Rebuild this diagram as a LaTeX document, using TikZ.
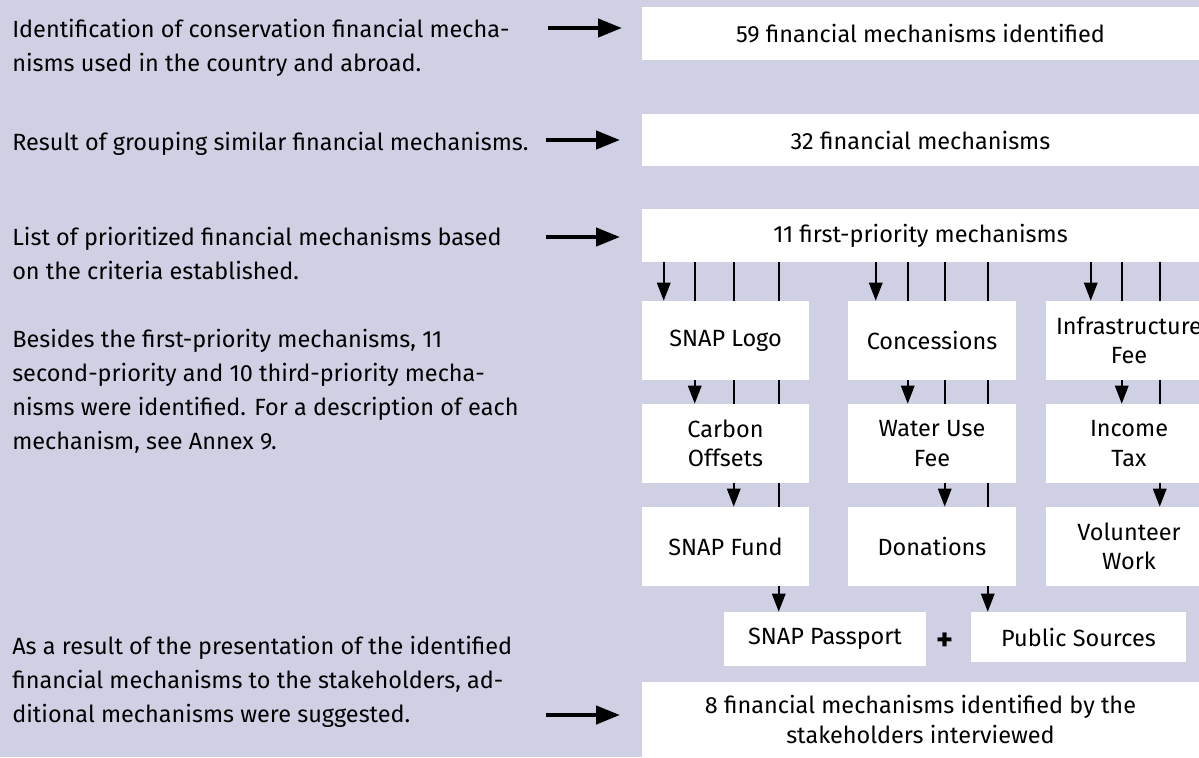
\documentclass[tikz,border=0pt]{standalone}
\usepackage{fontspec}
\setmainfont{Fira Sans}
\usetikzlibrary{arrows.meta,calc,backgrounds}
\definecolor{bgpanel}{RGB}{208,208,229}
\begin{document}
\begin{tikzpicture}[x=0.75pt,y=-0.75pt,
  stagebox/.style={fill=white, inner sep=0pt, align=center,
    font=\fontsize{17.6}{22}\selectfont},
  note/.style={anchor=north west, inner sep=0pt, align=left,
    font=\fontsize{17.6}{25.5}\selectfont},
  bigarrow/.style={line width=3.2pt, -{Triangle[length=18pt,width=13.5pt]}},
  feed/.style={line width=1.6pt, -{Triangle[length=13.5pt,width=10pt]}},
  row/.style={minimum height=59.25pt},
]
\useasboundingbox (0,0) rectangle (1199,757);

% stage boxes on the right
\node[stagebox, minimum width=417.75pt, minimum height=39.75pt] (b59) at (920.5,33.5) {59 financial mechanisms identified};
\node[stagebox, minimum width=417.75pt, minimum height=39pt] (b32) at (920.5,140) {32 financial mechanisms};
\node[stagebox, minimum width=417.75pt, minimum height=39.75pt] (prio) at (920.5,235.5) {11 first-priority mechanisms};

% first-priority mechanisms, three columns
\node[stagebox, row, minimum width=125.25pt] (logo) at (725.5,340.5) {SNAP Logo};
\node[stagebox, row, minimum width=126pt] (conc) at (932,340.5) {Concessions};
\node[stagebox, row, minimum width=124.5pt] (infra) at (1129,340.5) {Infrastructure\\Fee};
\node[stagebox, row, minimum width=125.25pt] (carbon) at (725.5,443.5) {Carbon\\Offsets};
\node[stagebox, row, minimum width=126pt] (water) at (932,443.5) {Water Use\\Fee};
\node[stagebox, row, minimum width=124.5pt] (income) at (1129,443.5) {Income\\Tax};
\node[stagebox, row, minimum width=125.25pt] (fund) at (725.5,546.5) {SNAP Fund};
\node[stagebox, row, minimum width=126pt] (donat) at (932,546.5) {Donations};
\node[stagebox, row, minimum width=124.5pt] (volun) at (1129,546.5) {Volunteer\\Work};
\node[stagebox, minimum width=151.5pt, minimum height=40.5pt] (pass) at (825,639) {SNAP Passport};
\node[stagebox, minimum width=161.25pt, minimum height=37.5pt] (public) at (1078.5,637) {Public Sources};
\node[inner sep=0pt, font=\bfseries\fontsize{24}{24}\selectfont] (plus) at (945,642) {+};
\node[stagebox, minimum width=417.75pt, minimum height=56.25pt] (stake) at (920.5,719.5) {8 financial mechanisms identified by the\\stakeholders interviewed};

% explanatory notes on the left
\node[note] (n1) at (12,19) {Identification of conservation financial mecha-\\nisms used in the country and abroad.};
\node[note] (n2) at (12,132) {Result of grouping similar financial mechanisms.};
\node[note] (n3) at (12,227) {List of prioritized financial mechanisms based\\on the criteria established.};
\node[note] (n4) at (12,329) {Besides the first-priority mechanisms, 11\\second-priority and 10 third-priority mecha-\\nisms were identified. For a description of each\\mechanism, see Annex 9.};
\node[note] (n5) at (12,636) {As a result of the presentation of the identified\\financial mechanisms to the stakeholders, ad-\\ditional mechanisms were suggested.};

% arrows from the notes to the stages
\coordinate (a1s) at (548,28);  \coordinate (a1e) at (622,28);
\coordinate (a2s) at (546,140); \coordinate (a2e) at (620,140);
\coordinate (a3s) at (546,237); \coordinate (a3e) at (620,237);
\coordinate (a4s) at (546,715); \coordinate (a4e) at (620,715);
\draw[bigarrow] (a1s) -- (a1e);
\draw[bigarrow] (a2s) -- (a2e);
\draw[bigarrow] (a3s) -- (a3e);
\draw[bigarrow] (a4s) -- (a4e);

\begin{pgfonlayer}{background}
  \fill[bgpanel] (0,0) rectangle (1199,757);
  % each first-priority mechanism leaves the list box and runs behind the
  % boxes above it down to its own box
  \draw[feed] ($(prio.south west)+(22,0)$)  coordinate (f1) -- (f1 |- logo.north);
  \draw[feed] ($(prio.south west)+(53,0)$)  coordinate (f2) -- (f2 |- carbon.north);
  \draw[feed] ($(prio.south west)+(92,0)$)  coordinate (f3) -- (f3 |- fund.north);
  \draw[feed] ($(prio.south west)+(137,0)$) coordinate (f4) -- (f4 |- pass.north);
  \draw[feed] ($(prio.south west)+(234,0)$) coordinate (f5) -- (f5 |- conc.north);
  \draw[feed] ($(prio.south west)+(266,0)$) coordinate (f6) -- (f6 |- water.north);
  \draw[feed] ($(prio.south west)+(303,0)$) coordinate (f7) -- (f7 |- donat.north);
  \draw[feed] ($(prio.south west)+(346,0)$) coordinate (f8) -- (f8 |- public.north);
  \draw[feed] ($(prio.south west)+(449,0)$) coordinate (f9) -- (f9 |- infra.north);
  \draw[feed] ($(prio.south west)+(480,0)$) coordinate (f10) -- (f10 |- income.north);
  \draw[feed] ($(prio.south west)+(518,0)$) coordinate (f11) -- (f11 |- volun.north);
\end{pgfonlayer}
\end{tikzpicture}
\end{document}
